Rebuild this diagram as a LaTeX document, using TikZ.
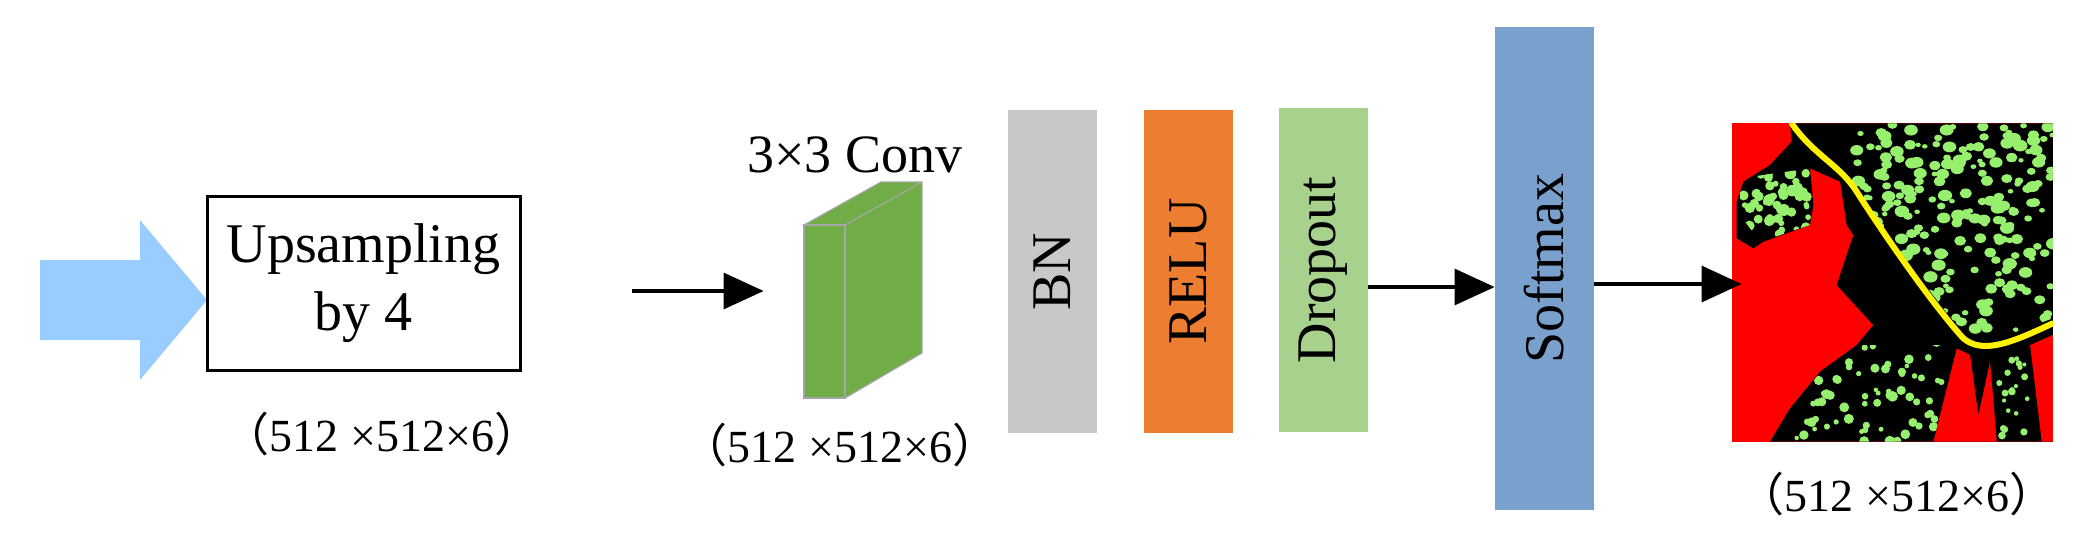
\documentclass[tikz,border=0pt]{standalone}
\usepackage{fontspec}
\setmainfont{Liberation Serif}
\newfontfamily\cjk{Noto Sans CJK SC}
\usetikzlibrary{arrows.meta}
\definecolor{lblue}{RGB}{153,204,255}
\definecolor{bngray}{RGB}{200,200,200}
\definecolor{reluor}{RGB}{237,125,49}
\definecolor{dropg}{RGB}{169,209,142}
\definecolor{softb}{RGB}{122,161,206}
\definecolor{convg}{RGB}{112,173,71}
\definecolor{segg}{RGB}{150,240,110}
\tikzset{
  layer/.style={draw=none,minimum width=44.5pt,minimum height=161.5pt,inner sep=0pt},
  vlab/.style={rotate=90,font=\fontsize{28}{30}\selectfont},
  flow/.style={line width=1.6pt,-{Triangle[length=20pt,width=18pt]}},
  dim/.style={font=\fontsize{23}{26}\selectfont,inner sep=0pt},
}
\newcommand{\dimtext}{{\cjk （}512 ×512×6{\cjk ）}}
\begin{document}
\begin{tikzpicture}[x=0.5pt,y=-0.5pt]
\useasboundingbox (0,0) rectangle (2082,540);
% blue input arrow
\fill[lblue] (40,260) -- (140,260) -- (140,220) -- (207,300) -- (140,380) -- (140,340) -- (40,340) -- cycle;
% upsampling box
\node[draw,line width=1.5pt,minimum width=156.5pt,minimum height=87pt,align=center,
  font=\fontsize{28}{34}\selectfont] (up) at (363.5,283) {Upsampling\\by 4};
\node[dim] (d1) at (382,434) {\dimtext};
% conv block
\node[minimum width=20.5pt,minimum height=86.5pt,inner sep=0pt] (conv) at (824.5,311.5) {};
\filldraw[fill=convg,draw=gray!70,line width=0.6pt] (804,225) -- (881,182) -- (922,182) -- (922,353) -- (845,398) -- (845,225) -- cycle;
\draw[gray!70,line width=0.6pt,fill=convg] (804,225) rectangle (845,398);
\draw[gray!70,line width=0.6pt] (845,225) -- (922,182);
\node[font=\fontsize{27}{30}\selectfont] (convlab) at (855,155) {3×3 Conv};
\node[dim] (d2) at (840,445) {\dimtext};
% layers
\node[layer,fill=bngray] (bn) at (1052.5,271.5) {};
\node[vlab] at (bn) {BN};
\node[layer,fill=reluor] (relu) at (1188.5,271.5) {};
\node[vlab] at (relu) {RELU};
\node[layer,fill=dropg,minimum height=162pt] (drop) at (1323.5,270) {};
\node[vlab] at (drop) {Dropout};
\node[layer,fill=softb,minimum width=49.5pt,minimum height=241.5pt] (soft) at (1544.5,268.5) {};
\node[vlab] at (soft) {Softmax};
% output image
\node[minimum width=155.5pt,minimum height=159.5pt,inner sep=0pt] (img) at (1897.5,282.5) {};
\begin{scope}[shift={(1730,115)},x=0.1667pt,y=-0.1667pt]
  \clip (5,25) rectangle (968,980);
  \fill[red] (5,25) rectangle (968,980);
  \fill[black] (180,25) -- (185,80) -- (120,150) -- (40,200) -- (20,260) -- (20,370) -- (70,400) -- (100,380) -- (240,330) -- (250,270) -- (240,160) -- (330,200) -- (350,330) -- (370,360) -- (320,510) -- (430,630) -- (380,690) -- (270,770) -- (180,880) -- (120,980) -- (968,980) -- (968,25) -- cycle;
  \fill[red] (680,700) -- (720,720) -- (745,900) -- (780,740) -- (800,980) -- (610,980) -- cycle;
  \fill[red] (900,690) -- (968,660) -- (968,980) -- (935,980) -- cycle;
  \pgfmathsetseed{7}
  \begin{scope}
    \clip (300,25) -- (968,25) -- (968,610) -- (780,680) -- (700,660) -- (450,330) -- (330,150) -- cycle;
    \foreach \i in {1,...,260}{
      \pgfmathsetmacro{\px}{380+590*rnd}
      \pgfmathsetmacro{\py}{25+620*rnd}
      \pgfmathsetmacro{\pr}{8+14*rnd}
      \fill[segg] (\px,\py) ellipse ({\pr} and {\pr*0.8});
    }
  \end{scope}
  \begin{scope}
    \clip (30,190) -- (240,160) -- (250,270) -- (240,330) -- (90,380) -- (30,300) -- cycle;
    \foreach \i in {1,...,50}{
      \pgfmathsetmacro{\px}{40+200*rnd}
      \pgfmathsetmacro{\py}{170+190*rnd}
      \fill[segg] (\px,\py) circle ({8+10*rnd});
    }
  \end{scope}
  \begin{scope}
    \clip (380,690) -- (680,690) -- (610,980) -- (120,980) -- (270,770) -- cycle;
    \foreach \i in {1,...,70}{
      \pgfmathsetmacro{\px}{200+470*rnd}
      \pgfmathsetmacro{\py}{680+300*rnd}
      \fill[segg] (\px,\py) circle ({6+10*rnd});
    }
  \end{scope}
  \foreach \i in {1,...,20}{
    \pgfmathsetmacro{\px}{800+100*rnd}
    \pgfmathsetmacro{\py}{720+250*rnd}
    \fill[segg] (\px,\py) circle ({6+6*rnd});
  }
  \draw[yellow,line width=3pt,line cap=round] (185,25) .. controls (250,120) and (330,150) .. (380,230) .. controls (450,340) and (600,560) .. (700,670) .. controls (760,720) and (850,680) .. (968,625);
\end{scope}
\node[dim] (d3) at (1897,494) {\dimtext};
% connectors
\draw[flow,shorten <=55pt,shorten >=20pt] (up.east |- 0,291) -- (conv.west |- 0,291);
\draw[flow] (drop.east |- 0,287) -- (soft.west |- 0,287);
\draw[flow] (soft.east |- 0,284) -- (img.west |- 0,284);
\end{tikzpicture}
\end{document}
